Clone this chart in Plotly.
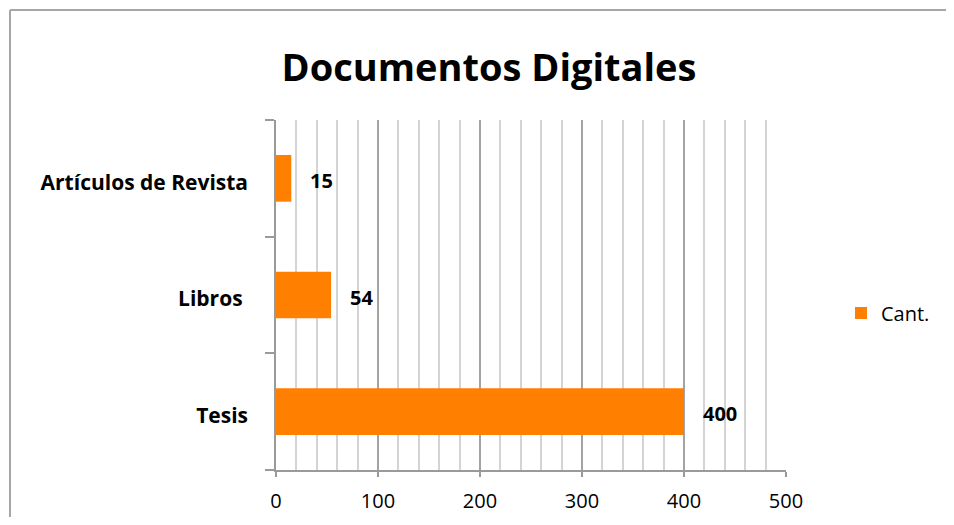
import plotly.graph_objects as go

categories = ["Tesis", "Libros", "Artículos de Revista"]
tick_labels = ["Tesis", "Libros\u00a0", "Artículos de Revista"]
values = [400, 54, 15]
series_name = "Cant."
x_tick_values = [0, 100, 200, 300, 400, 500]

OFF = 8  # page body margin
W, H = 954 - 2 * OFF, 525 - 2 * OFF
# target screen positions of the plot area
SX0, SX1, SY0, SY1 = 276, 786, 120, 470
L = SX0 - OFF
R = W - (SX1 - OFF)
T = SY0 - OFF
B = H - (SY1 - OFF)
pw, ph = W - L - R, H - T - B


def px2paper_x(sx):
    return (sx - OFF - L) / pw


def px2paper_y(sy):
    return (H - B - (sy - OFF)) / ph


fig = go.Figure()
fig.add_trace(go.Bar(
    y=categories, x=values, orientation="h", name=series_name,
    marker=dict(color="#FF7F00", line=dict(width=0)),
    showlegend=True,
))

for c, v in zip(categories, values):
    fig.add_annotation(x=v, y=c, xref="x", yref="y", text=f"<b>{v}</b>",
                       showarrow=False, xanchor="left", xshift=17, yshift=-2,
                       font=dict(family="Open Sans", size=20, color="#000000"))

# outer frame (left and top edges visible)
fig.add_shape(type="line", xref="paper", yref="paper",
              x0=px2paper_x(10), x1=px2paper_x(10), y0=px2paper_y(10), y1=px2paper_y(560),
              line=dict(color="#a6a6a6", width=2))
fig.add_shape(type="line", xref="paper", yref="paper",
              x0=px2paper_x(10), x1=px2paper_x(980), y0=px2paper_y(10), y1=px2paper_y(10),
              line=dict(color="#a6a6a6", width=2))

fig.update_layout(
    width=W, height=H,
    margin=dict(l=L, r=R, t=T, b=B, autoexpand=False),
    paper_bgcolor="white", plot_bgcolor="white",
    bargap=0.6,
    title=dict(text="<b>Documentos Digitales</b>", x=(489 - OFF) / W, xanchor="center",
               y=1 - (68 - OFF) / H, yanchor="middle",
               font=dict(family="Open Sans", size=38, color="#000000")),
    legend=dict(x=px2paper_x(841), y=px2paper_y(313), xanchor="left", yanchor="middle",
                xref="paper", yref="paper",
                font=dict(family="Open Sans", size=20, color="#000000"),
                itemwidth=30, bgcolor="rgba(0,0,0,0)"),
    xaxis=dict(range=[0, 500], tickvals=x_tick_values, showgrid=True,
               gridcolor="#a3a3a3", gridwidth=1.5,
               minor=dict(dtick=20, showgrid=True, gridcolor="#d4d4d4", gridwidth=1.5),
               showline=True, linecolor="#9a9a9a", linewidth=1.5,
               ticks="outside", ticklen=5, tickcolor="#9a9a9a", tickwidth=1.5,
               zeroline=False, ticklabelstandoff=7,
               tickfont=dict(family="Open Sans", size=20, color="#000000")),
    yaxis=dict(type="category", categoryorder="array", categoryarray=categories,
               tickvals=categories, ticktext=[f"<b>{t}</b>" for t in tick_labels],
               showline=True, linecolor="#9a9a9a", linewidth=1.5,
               ticks="outside", ticklen=9, tickcolor="#9a9a9a", tickwidth=1.5,
               tickson="boundaries", showgrid=False, ticklabelstandoff=22,
               ticklabelshift=4,
               tickfont=dict(family="Open Sans", size=21, color="#000000")),
)

fig.write_html("out.html")
